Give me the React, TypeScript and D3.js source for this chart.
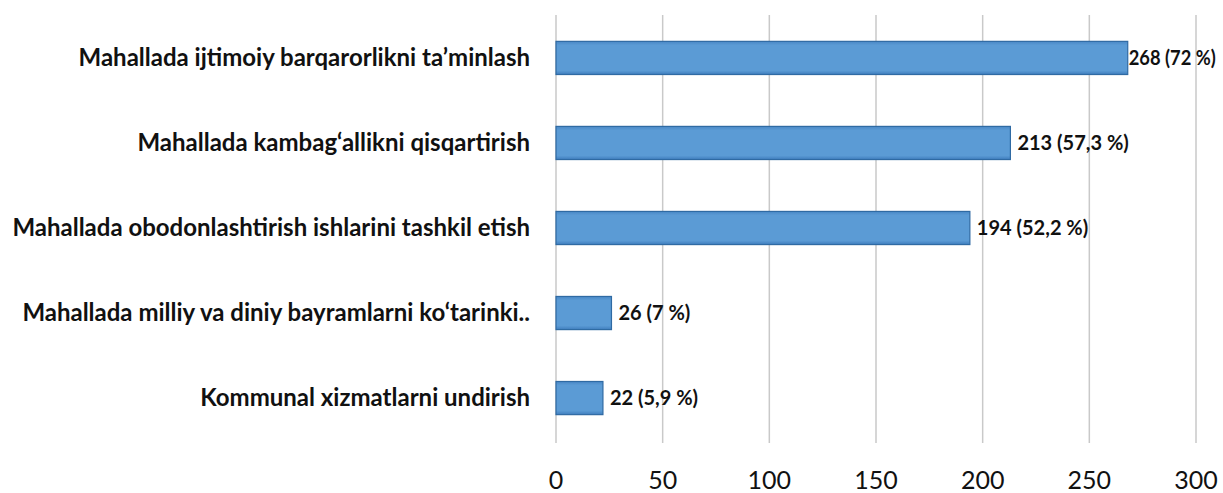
import React from "react";
import * as d3 from "d3";

const categories = [
  "Mahallada ijtimoiy barqarorlikni ta\u2019minlash",
  "Mahallada kambag\u2018allikni qisqartirish",
  "Mahallada obodonlashtirish ishlarini tashkil etish",
  "Mahallada milliy va diniy bayramlarni ko\u2018tarinki..",
  "Kommunal xizmatlarni undirish",
];
const values = [268, 213, 194, 26, 22];
const percentLabels = ["72 %", "57,3 %", "52,2 %", "7 %", "5,9 %"];
const ticks = [0, 50, 100, 150, 200, 250, 300];

const W = 1223;
const H = 493;
const margin = { left: 556, right: 27, top: 15, bottom: 52 };

export default function App() {
  const x = d3.scaleLinear().domain([0, 300]).range([margin.left, W - margin.right]);
  const y = d3
    .scaleBand<string>()
    .domain(categories)
    .range([margin.top, H - margin.bottom])
    .paddingInner(0.61)
    .paddingOuter(0.31);
  const bw = y.bandwidth();
  return (
    <svg width={W} height={H} style={{ position: "absolute", left: 0, top: 0, background: "#fff" }}>
      <defs>
        <linearGradient id="barGrad" x1="0" y1="0" x2="0" y2="1">
          <stop offset="0" stopColor="#4a88c6" />
          <stop offset="0.12" stopColor="#5b9bd5" />
          <stop offset="0.88" stopColor="#5b9bd5" />
          <stop offset="1" stopColor="#3f7dbd" />
        </linearGradient>
      </defs>
      {ticks.map((t) => (
        <g key={t}>
          <line x1={x(t)} x2={x(t)} y1={margin.top} y2={H - margin.bottom + 2} stroke="#c9c9c9" strokeWidth={1.5} />
          <text x={x(t)} y={489} textAnchor="middle" fontFamily="Lato, 'Open Sans', sans-serif" fontSize={25} fill="#111">
            {t}
          </text>
        </g>
      ))}
      {categories.map((c, i) => {
        const yy = y(c)!;
        const fitProps = i === 0 ? { textLength: 87, lengthAdjust: "spacingAndGlyphs" } : {};
        return (
          <g key={c}>
            <rect x={x(0)} y={yy} width={x(values[i]) - x(0)} height={bw} fill="url(#barGrad)" stroke="#2f6aa3" strokeWidth={1.2} />
            <text x={530} y={yy + bw / 2} dy="0.33em" textAnchor="end" fontFamily="Lato, sans-serif" fontWeight="bold" fontSize={24} fill="#111">
              {c}
            </text>
            <text x={x(values[i]) + (i === 0 ? 1 : 7)} y={yy + bw / 2} dy="0.35em" fontFamily="Lato, sans-serif" fontWeight="bold" fontSize={20} fill="#111" {...fitProps}>
              {`${values[i]} (${percentLabels[i]})`}
            </text>
          </g>
        );
      })}
    </svg>
  );
}
